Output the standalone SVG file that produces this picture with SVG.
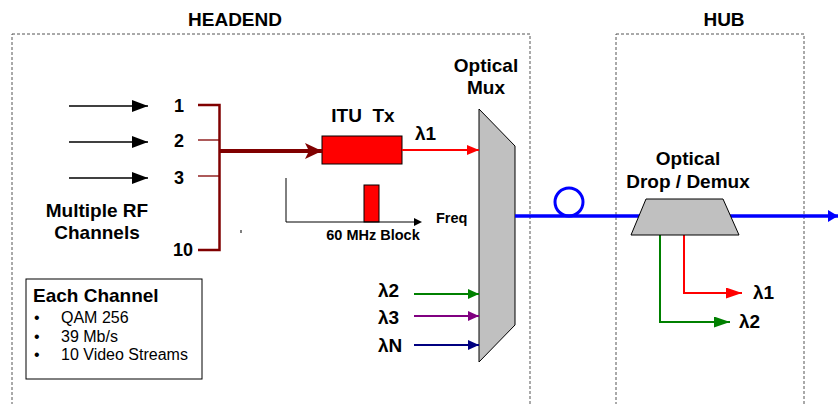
<svg xmlns="http://www.w3.org/2000/svg" width="838" height="404" viewBox="0 0 838 404">
<style>
text{font-family:"Liberation Sans",Arial,sans-serif;fill:#000}
.b{font-weight:bold}
.L{font-size:19px;font-weight:bold}
.s{font-size:14.5px;font-weight:bold}
.n{font-size:16px}
.box{fill:none;stroke:#555;stroke-width:1;stroke-dasharray:3,2}
.gray{fill:#c0c0c0;stroke:#000;stroke-width:1}
</style>
<defs>
<marker id="ak" viewBox="0 0 16 12" refX="16" refY="6" markerWidth="16" markerHeight="12" orient="auto" markerUnits="userSpaceOnUse"><path d="M0,0L16,6L0,12z" fill="#000"/></marker>
<marker id="am" viewBox="0 0 17 16" refX="17" refY="8" markerWidth="17" markerHeight="16" orient="auto" markerUnits="userSpaceOnUse"><path d="M0,0L17,8L0,16L4,8z" fill="#800000"/></marker>
<marker id="ar" viewBox="0 0 12 10" refX="12" refY="5" markerWidth="12" markerHeight="10" orient="auto" markerUnits="userSpaceOnUse"><path d="M0,0L12,5L0,10z" fill="#f00"/></marker>
<marker id="ar2" viewBox="0 0 16 11" refX="16" refY="5.5" markerWidth="16" markerHeight="11" orient="auto" markerUnits="userSpaceOnUse"><path d="M0,0L16,5.5L0,11z" fill="#f00"/></marker>
<marker id="ag2" viewBox="0 0 16 11" refX="16" refY="5.5" markerWidth="16" markerHeight="11" orient="auto" markerUnits="userSpaceOnUse"><path d="M0,0L16,5.5L0,11z" fill="#008000"/></marker>
<marker id="ag" viewBox="0 0 11 10" refX="11" refY="5" markerWidth="11" markerHeight="10" orient="auto" markerUnits="userSpaceOnUse"><path d="M0,0L11,5L0,10z" fill="#008000"/></marker>
<marker id="ap" viewBox="0 0 11 10" refX="11" refY="5" markerWidth="11" markerHeight="10" orient="auto" markerUnits="userSpaceOnUse"><path d="M0,0L11,5L0,10z" fill="#800080"/></marker>
<marker id="an" viewBox="0 0 11 10" refX="11" refY="5" markerWidth="11" markerHeight="10" orient="auto" markerUnits="userSpaceOnUse"><path d="M0,0L11,5L0,10z" fill="#000080"/></marker>
<marker id="ab" viewBox="0 0 10 12" refX="10" refY="6" markerWidth="10" markerHeight="12" orient="auto" markerUnits="userSpaceOnUse"><path d="M0,0L10,6L0,12z" fill="#00f"/></marker>
</defs>

<g id="headend">
<rect class="box" x="12" y="34" width="518" height="380"/>
<text class="L" x="235" y="26" text-anchor="middle">HEADEND</text>
</g>
<g id="hub">
<rect class="box" x="616" y="34" width="188" height="380"/>
<text class="L" x="724" y="26" text-anchor="middle">HUB</text>
</g>

<g id="rf-inputs">
<text class="b" x="179" y="112" font-size="18" text-anchor="middle">1</text>
<text class="b" x="179" y="147" font-size="18" text-anchor="middle">2</text>
<text class="b" x="179" y="184" font-size="18" text-anchor="middle">3</text>
<text class="b" x="183" y="256" font-size="18" text-anchor="middle">10</text>
<text class="L" x="97" y="217" text-anchor="middle">Multiple RF</text>
<text class="L" x="97" y="239" text-anchor="middle">Channels</text>
</g>

<g id="itu-tx">
<rect x="322" y="136" width="80" height="28" fill="#f00" stroke="#000" stroke-width="1"/>
<text class="L" x="363" y="122" text-anchor="middle" xml:space="preserve">ITU  Tx</text>
<text class="L" x="415" y="140">λ1</text>
</g>

<g id="freq-plot">
<rect x="364" y="185" width="15" height="37" fill="#f00" stroke="#000" stroke-width="1"/>
<text class="s" x="436" y="223">Freq</text>
<text class="s" x="373" y="240" text-anchor="middle">60 MHz Block</text>
<rect x="240.5" y="230" width="1" height="3" fill="#000"/>
</g>

<g id="optical-mux">
<polygon class="gray" points="479,109 515,146 515,325 479,362"/>
<text class="L" x="486" y="72" text-anchor="middle">Optical</text>
<text class="L" x="486" y="94" text-anchor="middle">Mux</text>
<text class="L" x="378" y="297">λ2</text>
<text class="L" x="378" y="324">λ3</text>
<text class="L" x="378" y="352">λN</text>
</g>

<g id="demux-label">
<text class="L" x="688" y="165" text-anchor="middle">Optical</text>
<text class="L" x="688" y="188" text-anchor="middle">Drop / Demux</text>
<text class="L" x="753" y="299">λ1</text>
<text class="L" x="739" y="328">λ2</text>
</g>

<g id="each-channel">
<rect x="26" y="279" width="176" height="100" fill="#fff" stroke="#000" stroke-width="1"/>
<text class="L" x="33" y="302">Each Channel</text>
<text class="n" x="34" y="323">•</text>
<text class="n" x="61" y="323">QAM 256</text>
<text class="n" x="34" y="342">•</text>
<text class="n" x="61" y="342">39 Mb/s</text>
<text class="n" x="34" y="360">•</text>
<text class="n" x="61" y="360">10 Video Streams</text>
</g>

<g id="connectors">
<line x1="69" y1="106" x2="148" y2="106" stroke="#000" stroke-width="1.6" marker-end="url(#ak)"/>
<line x1="69" y1="142" x2="148" y2="142" stroke="#000" stroke-width="1.6" marker-end="url(#ak)"/>
<line x1="69" y1="178" x2="148" y2="178" stroke="#000" stroke-width="1.6" marker-end="url(#ak)"/>
<g stroke="#800000" fill="none">
<path d="M198,105H219.5V250H198" stroke-width="2.5"/>
<line x1="198" y1="140" x2="219" y2="140" stroke-width="1.3"/>
<line x1="198" y1="176" x2="219" y2="176" stroke-width="1.3"/>
<line x1="219" y1="151" x2="322" y2="151" stroke-width="4" marker-end="url(#am)"/>
</g>
<line x1="402" y1="150" x2="479" y2="150" stroke="#f00" stroke-width="2" marker-end="url(#ar)"/>
<path d="M286,178V222H420" fill="none" stroke="#000" stroke-width="1"/>
<path d="M414,218L422,222L414,226z" fill="#000"/>
<line x1="414" y1="294" x2="479" y2="294" stroke="#008000" stroke-width="2" marker-end="url(#ag)"/>
<line x1="414" y1="316" x2="479" y2="316" stroke="#800080" stroke-width="2" marker-end="url(#ap)"/>
<line x1="414" y1="345" x2="479" y2="345" stroke="#000080" stroke-width="2" marker-end="url(#an)"/>
<line x1="515" y1="216" x2="838" y2="216" stroke="#00f" stroke-width="3.5" marker-end="url(#ab)"/>
<circle cx="569" cy="202" r="14" fill="none" stroke="#00f" stroke-width="3"/>
<path d="M684,235V293H742" fill="none" stroke="#f00" stroke-width="2" marker-end="url(#ar2)"/>
<path d="M660,235V322H730" fill="none" stroke="#008000" stroke-width="2" marker-end="url(#ag2)"/>
</g>

<g id="optical-demux">
<polygon class="gray" points="646,199 723,199 739,235 631,235"/>
</g>
</svg>
